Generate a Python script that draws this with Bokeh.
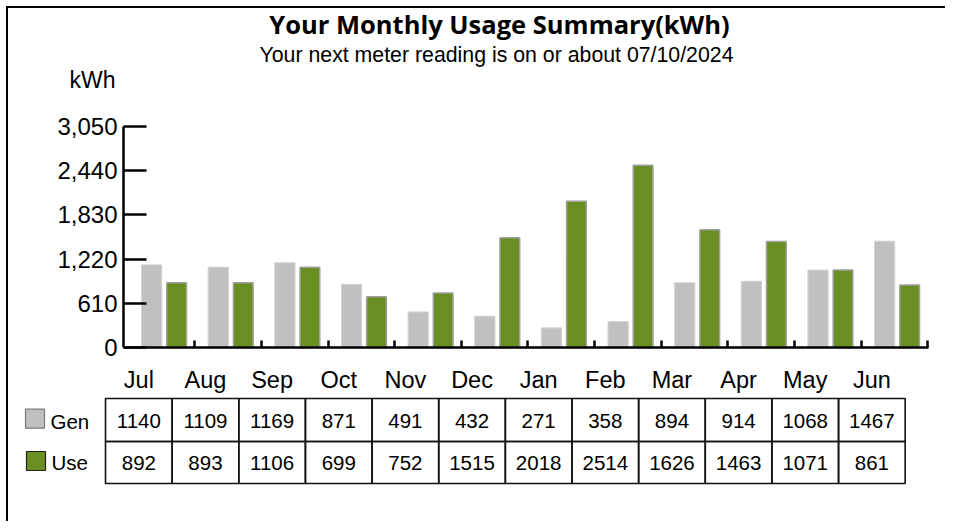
import numpy as np
from bokeh.plotting import figure
from bokeh.models import Range1d, FixedTicker, NumeralTickFormatter, Label, BoxAnnotation
from bokeh.embed import file_html
from bokeh.resources import INLINE

# ---- data ----
months = ["Jul", "Aug", "Sep", "Oct", "Nov", "Dec", "Jan", "Feb", "Mar", "Apr", "May", "Jun"]
gen = [1140, 1109, 1169, 871, 491, 432, 271, 358, 894, 914, 1068, 1467]
use = [892, 893, 1106, 699, 752, 1515, 2018, 2514, 1626, 1463, 1071, 861]
y_ticks = [0, 610, 1220, 1830, 2440, 3050]
series_names = ["Gen", "Use"]
title_text = "Your Monthly Usage Summary(kWh)"
subtitle_text = "Your next meter reading is on or about 07/10/2024"
unit_text = "kWh"

# ---- styles / geometry ----
GRAY = "#c0c0c0"
GREEN = "#6b8e23"
W, H = 945, 521
PL, PR, PT, PB = 123, 928, 126, 347      # plot-area edges in canvas px
X0, X1 = -0.07, 12.01
Y0, Y1 = 0, 3050
SANS = "Liberation Sans"
BASE_K = 0.38   # empirical shift of Label baseline (fraction of font size)


def sx(px):
    return X0 + (px - PL) * (X1 - X0) / (PR - PL)


def sy(py):
    return Y0 + (PB - py) * (Y1 - Y0) / (PB - PT)


def add_text(p, x, base_py, text, fs, align="center", font=SANS, style="normal"):
    p.add_layout(Label(x=x, y=sy(base_py - BASE_K * fs), text=text, text_align=align,
                       text_baseline="alphabetic", text_font=font, text_font_style=style,
                       text_font_size=f"{fs}px", text_color="black"))


p = figure(width=W, height=H, x_range=Range1d(sx(0), sx(W)), y_range=Range1d(sy(H), sy(0)),
           output_backend="svg", toolbar_location=None, min_border=0)
p.outline_line_color = None
p.grid.visible = False

idx = np.arange(len(months))
p.vbar(x=idx + 0.352, top=gen, width=0.303, fill_color=GRAY,
       line_color="#d2d2d2", line_width=1)
p.vbar(x=idx + 0.727, top=use, width=0.296, fill_color=GREEN,
       line_color="#a0a0a0", line_width=1.5)

# y axis
ya = p.yaxis[0]
ya.fixed_location = X0
ya.bounds = (Y0, Y1)
ya.ticker = FixedTicker(ticks=y_ticks)
ya.formatter = NumeralTickFormatter(format="0,0")
ya.major_tick_in = 23
ya.major_tick_out = 0
ya.minor_tick_line_color = None
ya.major_label_standoff = 6
ya.axis_line_width = 2.5
ya.major_tick_line_width = 2.5
ya.axis_line_color = "black"
ya.major_tick_line_color = "black"
ya.major_label_text_font = SANS
ya.major_label_text_font_size = "24px"
ya.major_label_text_color = "black"

# x axis
xa = p.xaxis[0]
xa.fixed_location = Y0
xa.bounds = (X0, X1)
xa.ticker = FixedTicker(ticks=list(range(1, len(months) + 1)))
xa.major_label_overrides = {i: "" for i in range(1, len(months) + 1)}
xa.major_tick_in = 7
xa.major_tick_out = 0
xa.minor_tick_line_color = None
xa.axis_line_width = 2.5
xa.major_tick_line_width = 2.5
xa.axis_line_color = "black"
xa.major_tick_line_color = "black"

# outer border (left and top strips)
p.add_layout(BoxAnnotation(left=sx(5.5), right=sx(7.5), top=sy(5.5), bottom=sy(H),
                           fill_color="black", fill_alpha=1, line_color=None))
p.add_layout(BoxAnnotation(left=sx(5.5), right=sx(W), top=sy(5.5), bottom=sy(7.5),
                           fill_color="black", fill_alpha=1, line_color=None))

# titles
add_text(p, sx(499), 33, title_text, 25.5, font="Open Sans", style="bold")
add_text(p, sx(496), 63, subtitle_text, 21.3)
add_text(p, sx(69), 88.5, unit_text, 23, align="left")

# month labels and table
TOFF = -0.34
row_tops = [sy(398), sy(441)]
row_bots = [sy(441), sy(483)]
row_base = [428.3, 470]
for k, m in enumerate(months):
    add_text(p, k + TOFF + 0.5, 388.5, m, 23.5)
    for r, vals in enumerate([gen, use]):
        p.add_layout(BoxAnnotation(left=k + TOFF, right=k + TOFF + 1,
                                   top=row_tops[r], bottom=row_bots[r],
                                   fill_alpha=0, line_color="#111111", line_alpha=1,
                                   line_width=1.6))
        add_text(p, k + TOFF + 0.5, row_base[r], str(vals[k]), 20.5)

# legend swatches
sw = [(25, 408.7, GRAY, "#7a7a7a"), (26, 451, GREEN, "#222222")]
for r, (lx, ty, fc, lc) in enumerate(sw):
    p.add_layout(BoxAnnotation(left=sx(lx), right=sx(lx + 19), top=sy(ty), bottom=sy(ty + 19),
                               fill_color=fc, fill_alpha=1, line_color=lc, line_alpha=1,
                               line_width=1.2))
    add_text(p, sx(lx + 25), row_base[r], series_names[r], 20.5, align="left")

open("out.html", "w").write(file_html(p, INLINE))
